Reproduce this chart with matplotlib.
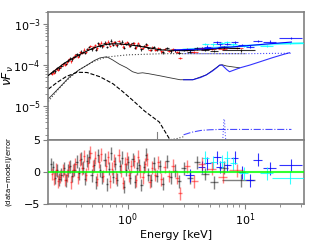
import matplotlib
matplotlib.use("Agg")
import matplotlib.pyplot as plt
import numpy as np

# --- data sets (keV, nuFnu, residual in sigma, half bin width) ---
blk_e = [0.220, 0.230, 0.240, 0.250, 0.261, 0.272, 0.284, 0.296, 0.309, 0.322, 0.336, 0.351,
         0.366, 0.382, 0.398, 0.415, 0.433, 0.452, 0.471, 0.492, 0.513, 0.535, 0.558, 0.582,
         0.607, 0.634, 0.661, 0.690, 0.720, 0.751, 0.783, 0.817, 0.853, 0.890, 0.928, 0.968,
         1.01, 1.05, 1.10, 1.15, 1.20, 1.25, 1.31, 1.37, 1.43, 1.50, 1.58, 1.67, 1.77, 1.88,
         2.00, 2.15, 2.32, 2.52, 2.75, 3.0, 3.4, 3.9, 4.6, 5.5, 6.6, 9.3]
blk_f = [6.5e-5, 7.08e-5, 7.03e-5, 8.37e-5, 8.31e-5, 9.62e-5, 1.125e-4, 1.064e-4, 1.288e-4,
         1.446e-4, 1.389e-4, 1.593e-4, 1.835e-4, 1.735e-4, 2.145e-4, 2.077e-4, 1.953e-4,
         2.477e-4, 2.745e-4, 2.413e-4, 2.8e-4, 2.398e-4, 3.369e-4, 2.992e-4, 2.851e-4,
         3.535e-4, 2.774e-4, 3.364e-4, 3.97e-4, 3.138e-4, 3.6e-4, 3.023e-4, 3.476e-4,
         3.727e-4, 2.685e-4, 3.259e-4, 3.481e-4, 2.905e-4, 3.477e-4, 2.685e-4, 3.074e-4,
         3.123e-4, 2.434e-4, 2.904e-4, 3.234e-4, 2.605e-4, 2.363e-4, 2.745e-4, 2.318e-4,
         2.509e-4, 2.036e-4, 2.585e-4, 2.171e-4, 2.302e-4, 2.03e-4, 2.345e-4, 2.146e-4,
         2.575e-4, 2.35e-4, 2.22e-4, 2.727e-4, 2.3e-4]
blk_r = [1.2, 0.8, -0.9, 0.3, -1.1, -0.4, 0.6, -1.3, 0.2, 0.9, -0.6, 0.4, 1.6, -0.2, 2.1,
         0.7, -1.0, 1.8, 2.4, -0.5, 1.1, -1.6, 2.6, 0.3, -0.8, 1.9, -1.9, 0.5, 2.9, -0.7,
         1.3, -1.2, 0.9, 2.2, -2.3, 0.4, 1.5, -0.9, 2.0, -1.5, 0.6, 1.1, -2.0, 0.8, 2.7,
         -0.4, -1.3, 1.4, -0.6, 0.9, -1.8, 1.7, -0.8, 0.2, -1.4, 0.6, -0.9, 1.5, -0.3, -1.6,
         0.7, -1.25]
blk_xerr = [0.005, 0.005, 0.005, 0.006, 0.006, 0.006, 0.006, 0.007, 0.007, 0.007, 0.007, 0.008,
            0.008, 0.008, 0.009, 0.009, 0.009, 0.01, 0.01, 0.011, 0.011, 0.011, 0.012, 0.012,
            0.013, 0.013, 0.014, 0.015, 0.015, 0.016, 0.017, 0.017, 0.018, 0.019, 0.02, 0.02,
            0.021, 0.022, 0.024, 0.025, 0.026, 0.027, 0.03, 0.03, 0.03, 0.035, 0.04, 0.045,
            0.05, 0.055, 0.06, 0.08, 0.09, 0.1, 0.12, 0.13, 0.2, 0.25, 0.35, 0.45, 0.6, 2.9]

red_e = [0.225, 0.235, 0.245, 0.255, 0.266, 0.278, 0.290, 0.302, 0.315, 0.329, 0.343, 0.358,
         0.374, 0.390, 0.407, 0.424, 0.442, 0.461, 0.481, 0.502, 0.524, 0.546, 0.570, 0.594,
         0.620, 0.647, 0.675, 0.705, 0.735, 0.767, 0.800, 0.835, 0.871, 0.909, 0.948, 0.989,
         1.03, 1.075, 1.125, 1.175, 1.225, 1.28, 1.34, 1.40, 1.465, 1.54, 1.62, 1.72, 1.82,
         1.94, 2.07, 2.23, 2.42, 2.63, 2.8, 3.2, 3.7, 4.3, 5.2, 6.5, 8.5]
red_f = [6.22e-5, 6.6e-5, 8.07e-5, 7.76e-5, 8.99e-5, 1.05e-4, 1.03e-4, 1.177e-4, 1.383e-4,
         1.243e-4, 1.532e-4, 1.734e-4, 1.605e-4, 2.051e-4, 2.0e-4, 2.397e-4, 2.09e-4,
         2.503e-4, 2.928e-4, 2.711e-4, 3.058e-4, 2.557e-4, 3.214e-4, 3.552e-4, 2.941e-4,
         3.381e-4, 3.738e-4, 2.959e-4, 3.416e-4, 3.716e-4, 3.092e-4, 3.877e-4, 3.296e-4,
         2.837e-4, 3.469e-4, 3.625e-4, 3.011e-4, 3.274e-4, 3.379e-4, 2.7e-4, 3.411e-4,
         2.88e-4, 2.643e-4, 2.97e-4, 3.078e-4, 2.363e-4, 2.685e-4, 2.391e-4, 2.641e-4,
         2.169e-4, 2.45e-4, 2.203e-4, 2.44e-4, 2.118e-4, 1.5e-4, 2.413e-4, 2.084e-4,
         2.575e-4, 2.536e-4, 2.473e-4, 2.614e-4]
red_r = [-0.3, -1.0, 0.4, -1.4, -0.7, 0.2, -1.2, -0.5, 0.8, -1.6, 0.3, 1.2, -0.8, 1.9, 0.6,
         2.5, -0.4, 1.4, 3.0, 0.9, 2.2, -1.1, 1.6, 2.8, -0.6, 1.0, 2.3, -1.4, 0.5, 1.8, -0.9,
         2.6, 0.2, -1.7, 1.3, 2.1, -0.5, 0.9, 1.7, -1.3, 2.4, 0.1, -0.8, 1.2, 2.0, -1.5, 0.7,
         -0.4, 1.5, -1.1, 0.8, -0.6, 1.0, -0.9, -3.3, 0.9, -1.4, 1.3, 0.5, -0.7, 0.3]
red_xerr = [0.005, 0.005, 0.005, 0.005, 0.006, 0.006, 0.006, 0.006, 0.007, 0.007, 0.007, 0.008,
            0.008, 0.008, 0.008, 0.009, 0.009, 0.01, 0.01, 0.011, 0.011, 0.011, 0.012, 0.012,
            0.013, 0.013, 0.014, 0.015, 0.015, 0.016, 0.017, 0.017, 0.018, 0.019, 0.02, 0.02,
            0.021, 0.023, 0.025, 0.025, 0.026, 0.028, 0.03, 0.03, 0.033, 0.04, 0.04, 0.05, 0.05,
            0.06, 0.07, 0.08, 0.1, 0.1, 0.09, 0.2, 0.25, 0.3, 0.45, 0.6, 1.2]

blu_e = [3.4, 4.3, 4.8, 5.8, 6.1, 7.1, 8.2, 9.4, 11.1, 12.9, 16.3, 25.0]
blu_f = [2.35e-4, 2.6e-4, 2.8e-4, 3.6e-4, 3.2e-4, 3.3e-4, 3.6e-4, 3.1e-4, 2.8e-4, 3.9e-4, 3.7e-4, 4.6e-4]
blu_r = [-0.5, 0.8, 1.4, 2.3, 0.8, 1.1, 2.2, 0.0, -1.3, 1.9, 0.6, 1.1]
blu_xerr = [0.3, 0.3, 0.3, 0.4, 0.4, 0.5, 0.6, 0.7, 0.9, 1.2, 2.0, 5.5]

cya_e = [4.6, 5.4, 6.4, 7.1, 8.0, 9.8, 15.5, 24.5]
cya_f = [3.3e-4, 3.2e-4, 3.5e-4, 3.6e-4, 3.2e-4, 2.9e-4, 3.0e-4, 3.4e-4]
cya_r = [2.2, 1.5, 1.6, 2.2, 1.4, -0.2, -0.2, -0.9]
cya_xerr = [0.3, 0.4, 0.4, 0.4, 0.5, 0.8, 2.0, 7.5]

# --- model curves ---
tot_e = [0.21, 0.24, 0.28, 0.32, 0.38, 0.44, 0.50, 0.56, 0.64, 0.72, 0.82, 0.93, 1.0, 1.15,
         1.34, 1.58, 1.9, 2.35, 3.0, 3.5, 4.2, 5.2, 6.5, 9.0]
tot_f = [5.6e-5, 7.5e-5, 1.05e-4, 1.35e-4, 1.75e-4, 2.15e-4, 2.55e-4, 2.85e-4, 3.15e-4, 3.3e-4,
         3.3e-4, 3.2e-4, 3.15e-4, 3.0e-4, 2.8e-4, 2.6e-4, 2.35e-4, 2.3e-4, 2.25e-4, 2.3e-4,
         2.35e-4, 2.45e-4, 2.6e-4, 2.55e-4]
btot_e = [2.5, 4.0, 5.8, 6.4, 7.5, 10.0, 16.0, 25.0]
btot_f = [2.35e-4, 2.45e-4, 2.6e-4, 2.75e-4, 2.75e-4, 2.95e-4, 3.3e-4, 3.65e-4]
ctot_e = [3.0, 5.0, 8.0, 12.0, 20.0, 32.0]
ctot_f = [2.4e-4, 2.6e-4, 2.85e-4, 3.05e-4, 3.3e-4, 3.45e-4]

refl_e = [0.21, 0.25, 0.32, 0.38, 0.45, 0.52, 0.58, 0.66, 0.74, 0.85, 0.98, 1.1, 1.22, 1.34,
          1.5, 1.7, 1.88, 2.3, 2.8, 3.6, 4.7, 5.5, 6.1, 6.4, 7.0, 9.0]
refl_f = [1.5e-5, 2.5e-5, 5.2e-5, 7.5e-5, 1.0e-4, 1.3e-4, 1.5e-4, 1.6e-4, 1.35e-4, 1.05e-4,
          8.6e-5, 6.9e-5, 6.3e-5, 6.5e-5, 6.2e-5, 5.8e-5, 5.5e-5, 4.9e-5, 4.4e-5, 4.4e-5,
          5.8e-5, 8.0e-5, 1.0e-4, 1.02e-4, 9.5e-5, 8.6e-5]
brefl_e = [3.0, 3.6, 4.2, 4.7, 5.3, 5.8, 6.1, 6.4, 7.0, 7.4, 8.0, 9.1, 11.0, 13.4, 17.0, 21.0, 24.0]
brefl_f = [4.4e-5, 4.4e-5, 5.0e-5, 5.8e-5, 7.2e-5, 8.8e-5, 1.0e-4, 1.0e-4, 7.8e-5, 6.9e-5,
           7.5e-5, 8.6e-5, 1.0e-4, 1.2e-4, 1.5e-4, 1.8e-4, 2.0e-4]

pl_e = [0.21, 0.25, 0.3, 0.38, 0.45, 0.52, 0.6, 0.7, 0.85, 1.0, 1.5, 2.0, 3.0, 5.0, 10.0]
pl_f = [1.3e-5, 2.4e-5, 4.2e-5, 7.5e-5, 1.0e-4, 1.25e-4, 1.45e-4, 1.6e-4, 1.7e-4, 1.78e-4,
        1.85e-4, 1.9e-4, 1.9e-4, 1.9e-4, 1.9e-4]
bpl_e = [3.0, 5.0, 10.0, 25.0]
bpl_f = [1.9e-4, 1.9e-4, 1.9e-4, 1.95e-4]

bb_e = [0.21, 0.25, 0.3, 0.37, 0.45, 0.58, 0.75, 0.9, 1.1, 1.4, 1.86, 2.3]
bb_f = [2.6e-5, 3.8e-5, 5.3e-5, 6.7e-5, 6.6e-5, 5.2e-5, 3.5e-5, 2.3e-5, 1.4e-5, 7.5e-6, 4.1e-6, 1.5e-6]

hot_e = [2.2, 2.6, 3.0]
hot_f = [1.5e-6, 1.6e-6, 1.8e-6]
bhot_e = [3.0, 3.5, 4.2, 5.0, 6.0, 8.0, 12.0, 18.0, 25.0]
bhot_f = [2.0e-6, 2.3e-6, 2.55e-6, 2.65e-6, 2.7e-6, 2.7e-6, 2.7e-6, 2.7e-6, 2.7e-6]

fe_e = [6.45, 6.55, 6.62, 6.7, 6.78, 6.9]
fe_f = [1.2e-6, 2.5e-6, 4.8e-6, 4.8e-6, 2.5e-6, 1.2e-6]
si_e = [1.77, 1.77]
si_f = [1.4e-6, 2.4e-6]

##############################################################################

fig = plt.figure(figsize=(3.2, 2.4), dpi=100)
ax1 = fig.add_axes([0.151, 0.417, 0.799, 0.534])
ax2 = fig.add_axes([0.151, 0.149, 0.799, 0.268], sharex=ax1)

# spectra
ax1.errorbar(blk_e, blk_f, yerr=np.array(blk_f) * 0.07, xerr=blk_xerr,
             fmt='none', ecolor='black', elinewidth=0.8, alpha=0.8, zorder=3)
ax1.errorbar(red_e, red_f, yerr=np.array(red_f) * 0.07, xerr=red_xerr,
             fmt='none', ecolor='red', elinewidth=0.8, alpha=0.7, zorder=4)
ax1.errorbar(blu_e, blu_f, yerr=np.array(blu_f) * 0.08, xerr=blu_xerr,
             fmt='none', ecolor='blue', elinewidth=0.8, alpha=0.8, zorder=3)
ax1.errorbar(cya_e, cya_f, yerr=np.array(cya_f) * 0.06, xerr=cya_xerr,
             fmt='none', ecolor='cyan', elinewidth=0.8, alpha=0.8, zorder=3)

# models
ax1.plot(tot_e, tot_f, color='black', lw=0.8, zorder=5)
ax1.plot(btot_e, btot_f, color='blue', lw=0.8, zorder=5)
ax1.plot(ctot_e, ctot_f, color='cyan', lw=1.5, alpha=0.6, zorder=2)
ax1.plot(refl_e, refl_f, color='black', lw=0.6, alpha=0.8)
ax1.plot(brefl_e, brefl_f, color='blue', lw=0.8, alpha=0.8)
ax1.plot(pl_e, pl_f, color='black', lw=0.8, ls=':', alpha=0.7)
ax1.plot(bpl_e, bpl_f, color='blue', lw=0.8, ls=':', alpha=0.7)
ax1.plot(bb_e, bb_f, color='black', lw=0.8, ls='--')
ax1.plot(hot_e, hot_f, color='black', lw=0.8, ls=':', alpha=0.7)
ax1.plot(bhot_e, bhot_f, color='blue', lw=0.8, ls='-.', alpha=0.7)
ax1.plot(fe_e, fe_f, color='blue', lw=0.8, ls=':', alpha=0.6)
ax1.plot(si_e, si_f, color='grey', lw=0.8)

ax1.set_xscale('log')
ax1.set_yscale('log')
ax1.set_xlim(0.21, 32)
ax1.set_ylim(1.5e-6, 2e-3)
ax1.set_ylabel(r'$\nu F_\nu$', fontsize=9)
ax1.yaxis.set_label_coords(-0.125, 0.5)
plt.setp(ax1.get_xticklabels(), visible=False)

# residuals
ax2.errorbar(blk_e, blk_r, yerr=1.0, xerr=blk_xerr, fmt='none',
             ecolor='black', elinewidth=1.0, alpha=0.5, zorder=3)
ax2.errorbar(red_e, red_r, yerr=1.0, xerr=red_xerr, fmt='none',
             ecolor='red', elinewidth=1.0, alpha=0.5, zorder=4)
ax2.errorbar(blu_e, blu_r, yerr=1.0, xerr=blu_xerr, fmt='none',
             ecolor='blue', elinewidth=0.8, alpha=0.8, zorder=3)
ax2.errorbar(cya_e, cya_r, yerr=1.0, xerr=cya_xerr, fmt='none',
             ecolor='cyan', elinewidth=0.8, alpha=0.8, zorder=3)
ax2.axhline(0, color='lime', lw=1.5, alpha=0.8, zorder=5)
ax2.set_ylim(-5, 5)
ax2.set_yticks([-5, 0, 5])
ax2.set_xlabel('Energy [keV]', fontsize=8, labelpad=1)
ax2.set_ylabel('(data$-$model)/error', fontsize=5)
ax2.yaxis.set_label_coords(-0.135, 0.5)

for ax in (ax1, ax2):
    for s in ax.spines.values():
        s.set_color('grey')
        s.set_linewidth(1.2)
    ax.tick_params(which='both', colors='grey', labelcolor='black', labelsize=8, pad=2)
    ax.tick_params(which='major', length=3.5)
    ax.tick_params(which='minor', length=2)

plt.savefig('out.png', dpi=100)
